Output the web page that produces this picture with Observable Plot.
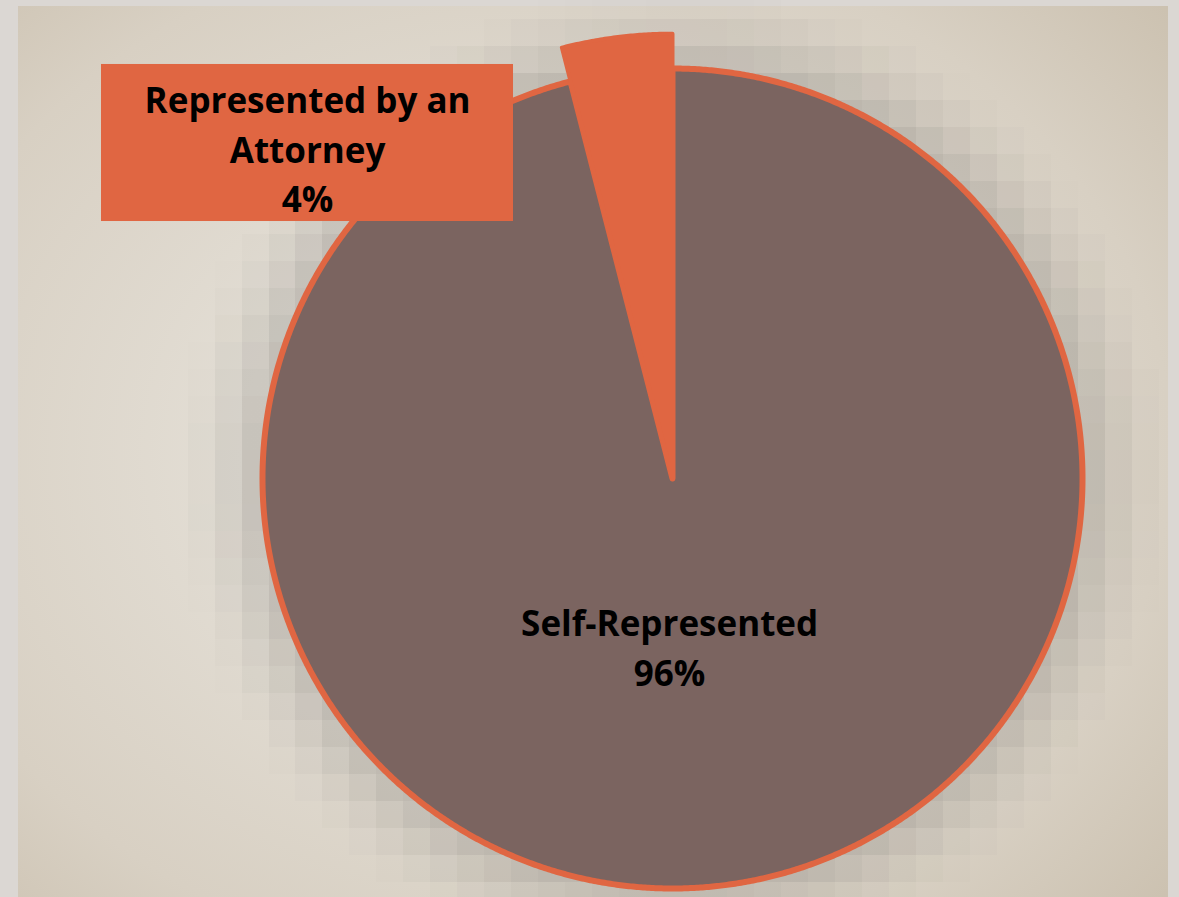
<!DOCTYPE html>
<html><head><meta charset="utf-8">
<script src="https://cdn.jsdelivr.net/npm/d3@7"></script>
<script src="https://cdn.jsdelivr.net/npm/@observablehq/plot@0.6"></script>
<style>
html,body{margin:0;padding:0;background:#dbd7d3;}
#wrap{position:relative;width:1179px;height:897px;overflow:hidden;}
#panel{position:absolute;left:18px;top:6px;width:1150px;height:891px;
  background:radial-gradient(ellipse 85% 90% at 45% 50%, #e6e1d8 0%, #e3ded5 30%, #d8d0c3 65%, #c3b7a3 100%);}
#chart{position:absolute;left:0;top:0;}
#chart svg{background:transparent;}
</style></head><body>
<div id="wrap"><div id="panel"></div><div id="chart"></div></div>
<script>
// ---- data ----
const categories = ["Self-Represented", "Represented by an Attorney"];
const shares = [96, 4];
const sliceColors = ["#7b6460", "#e06642"];
const percentLabels = ["96%", "4%"];
const labelLines = [["Self-Represented"], ["Represented by an", "Attorney"]];

// ---- build slice outlines from d3.pie angles ----
const rows = categories.map((c, i) => ({category: c, share: shares[i], color: sliceColors[i]}));
const arcs = d3.pie().sort(null).value(d => d.share)(rows);
const outerRadius = [1, 1.085]; // second slice pulled out
function outline(a, r) {
  const pts = [{category: a.data.category, x: 0, y: 0}];
  const n = Math.max(8, Math.ceil((a.endAngle - a.startAngle) / 0.005));
  for (let k = 0; k <= n; k++) {
    const t = a.startAngle + (a.endAngle - a.startAngle) * k / n;
    pts.push({category: a.data.category, x: r * Math.sin(t), y: r * Math.cos(t)});
  }
  return pts;
}
const selfPts = outline(arcs[0], outerRadius[0]);
const attyPts = outline(arcs[1], outerRadius[1]);
const textFor = i => [...labelLines[i], percentLabels[i]].join("\n");

const font = "'Open Sans', 'Noto Sans', sans-serif";

const chart = Plot.plot({
  width: 1179, height: 897, margin: 0,
  x: {domain: [-1, 1], range: [262, 1082], axis: null},
  y: {domain: [-1, 1], range: [888, 68], axis: null},
  opacity: {type: "identity"},
  style: {background: "transparent", overflow: "visible"},
  marks: [
    // blocky soft shadow behind the pie
    Plot.raster({
      x1: -1.6439, x2: 1.3195, y1: 1.1878, y2: -1.0512,
      width: 45, height: 34, imageRendering: "pixelated",
      fill: "#6e6c68",
      fillOpacity: (x, y) => {
        const d = (Math.hypot(x, y) - 1) * 410;
        if (d < -40) return 0;
        return Math.max(0, 0.28 * Math.pow(Math.max(0, 1 - Math.max(d, 0) / 82), 1.5));
      }
    }),
    Plot.line(selfPts, {x: "x", y: "y", curve: "linear-closed", fill: sliceColors[0],
      stroke: sliceColors[1], strokeWidth: 6, strokeLinejoin: "round"}),
    Plot.line(attyPts, {x: "x", y: "y", curve: "linear-closed", fill: sliceColors[1],
      stroke: sliceColors[1], strokeWidth: 4, strokeLinejoin: "round"}),
    Plot.text([textFor(0)], {x: -0.007, y: -0.406, text: d => d, fontSize: 35, fontWeight: 700,
      fontFamily: font, lineHeight: 1.42, fill: "#000"}),
    Plot.rect([0], {x1: -1.3927, x2: -0.3878, y1: 0.6268, y2: 1.0098, fill: sliceColors[1]}),
    Plot.text([textFor(1)], {x: -0.89, y: 0.809, text: d => d, fontSize: 35, fontWeight: 700,
      fontFamily: font, lineHeight: 1.42, fill: "#000"})
  ]
});
document.getElementById("chart").appendChild(chart);
</script>
</body></html>
